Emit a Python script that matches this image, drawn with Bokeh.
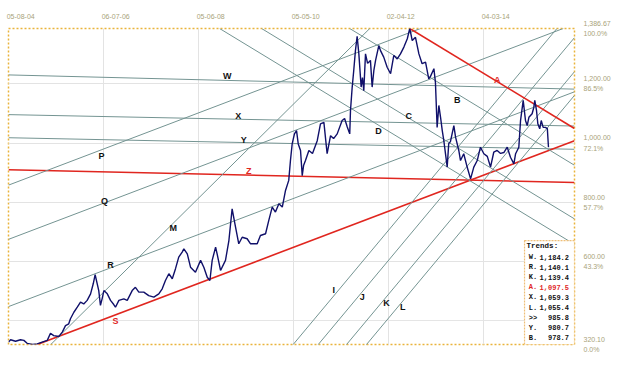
from bokeh.plotting import figure
from bokeh.models import Range1d, LinearAxis, FixedTicker, Grid, ColumnDataSource
from bokeh.core.properties import value
from bokeh.embed import file_html
from bokeh.resources import INLINE

# ---------------- data (x = trading bar index, 0 = 05-08-04; y = price) -------------
price_bar = [0, 11, 37, 63, 81, 98, 125, 151, 177, 204,
             221, 238, 265, 283, 300, 317, 326, 344, 362, 379,
             396, 414, 432, 446, 456, 467, 475, 484, 493, 502,
             520, 537, 554, 563, 581, 607, 625, 651, 668, 686,
             712, 738, 765, 791, 809, 826, 844, 862, 879, 896,
             914, 923, 941, 958, 984, 1011, 1028, 1046, 1060, 1072,
             1090, 1098, 1116, 1142, 1160, 1177, 1195, 1212, 1230, 1256,
             1274, 1309, 1326, 1353, 1370, 1388, 1405, 1423, 1441, 1458,
             1475, 1484, 1493, 1505, 1516, 1525, 1537, 1546, 1553, 1563,
             1581, 1600, 1625, 1642, 1660, 1677, 1695, 1711, 1730, 1756,
             1769, 1783, 1796, 1800, 1809, 1817, 1826, 1835, 1844, 1850,
             1856, 1863, 1870, 1879, 1890, 1905, 1914, 1923, 1932, 1949,
             1958, 1975, 1993, 2011, 2028, 2046, 2063, 2081, 2099, 2112,
             2125, 2142, 2160, 2177, 2195, 2212, 2221, 2239, 2247, 2256,
             2265, 2274, 2283, 2291, 2309, 2317, 2326, 2344, 2353, 2370,
             2379, 2396, 2414, 2432, 2449, 2467, 2484, 2502, 2520, 2537,
             2554, 2572, 2590, 2607, 2625, 2642, 2660, 2669, 2686, 2695,
             2709, 2721, 2730, 2739, 2756, 2765, 2770, 2779, 2786, 2796,
             2804, 2814, 2826, 2836, 2842]
price_val = [328, 336, 331, 336, 334, 324, 320.1, 322, 328, 334,
             358, 350, 347, 362, 384, 390, 407, 429, 446, 463,
             457, 469, 491, 525, 556, 525, 502, 452, 475, 502,
             491, 469, 455, 446, 469, 474, 469, 502, 513, 497,
             497, 485, 480, 491, 508, 536, 559, 542, 576, 615,
             632, 643, 626, 581, 564, 604, 581, 547, 536, 604,
             649, 626, 570, 604, 671, 778, 716, 660, 682, 677,
             660, 660, 688, 694, 739, 784, 767, 795, 784, 840,
             874, 941, 997, 1031, 1042, 997, 975, 890, 924, 941,
             975, 965, 1008, 1065, 1070, 964, 1025, 1015, 1031, 1076,
             1083, 1054, 1031, 1110, 1189, 1244, 1312, 1360, 1301, 1245,
             1189, 1221, 1177, 1301, 1269, 1279, 1189, 1245, 1279, 1329,
             1312, 1290, 1256, 1234, 1296, 1284, 1301, 1324, 1352, 1386.67,
             1346, 1357, 1301, 1268, 1273, 1217, 1225, 1251, 1205, 1053,
             1127, 1087, 1042, 1009, 919, 998, 1005, 1059, 1020, 975,
             941, 964, 919, 879, 919, 941, 986, 964, 955, 919,
             969, 975, 965, 968, 986, 952, 930, 964, 986, 1076,
             1144, 1076, 1059, 1087, 1099, 1121, 1144, 1110, 1065, 1048,
             1076, 1053, 1053, 1049, 985.8]
assert len(price_bar) == len(price_val)

date_ticks = [0, 500, 1000, 1500, 2000, 2500]
date_labels = ["05-08-04", "06-07-06", "05-06-08", "05-05-10", "02-04-12", "04-03-14"]

price_ticks = [320.10, 600, 800, 1000, 1200, 1386.67]
price_labels = ["320.10", "600.00", "800.00", "1,000.00", "1,200.00", "1,386.67"]
pct_labels = ["0.0%", "43.3%", "57.7%", "72.1%", "86.5%", "100.0%"]
grid_prices = [600, 800, 1000, 1200]

# trend lines: two anchor points each (bar, price)
trend_names = ["W", "X", "Y", "Z", "P", "Q", "R", "S", "M", "I", "J", "K", "L", "A", "B", "C", "D"]
trend_x0 = [0, 0, 0, 0, 0, 0, 0, 151, 221, 1493, 1625, 1774, 1879, 2112, 1796, 1332, 1111]
trend_p0 = [1230, 1096, 1018, 910, 858, 675, 448, 320, 319, 316, 316, 316, 316,
            1386.67, 1386.67, 1386.67, 1386.67]
trend_x1 = [2979, 2979, 2979, 2979, 2170, 2921, 2979, 2979, 1902, 2887, 2979, 2979, 2979,
            2979, 2979, 2979, 2979]
trend_p1 = [1182, 1057.5, 979, 867, 1387, 1387, 1173, 1008, 1387, 1387, 1356, 1241, 1161,
            1049, 925, 744, 658]
red_trends = ["Z", "S", "A"]

# letter labels placed along the lines
label_x = [1151, 1209, 1238, 1265, 489, 505, 537, 563, 867, 1712, 1862, 1990, 2075, 2572, 2362, 2107, 1947]
label_p = [1225, 1091, 1012, 907, 958, 803, 590, 398, 714, 505, 480, 460, 446, 1214, 1147, 1093, 1041]

# "Trends:" panel
trend_keys = ["W.", "R.", "K.", "A.", "X.", "L.", ">>", "Y.", "B."]
trend_vals = [1184.2, 1140.1, 1139.4, 1097.5, 1059.3, 1055.4, 985.8, 980.7, 978.7]

# ---------------- styling ----------------
GREY_LINE = "#749492"
RED = "#e0261f"
NAVY = "#10106a"
AXIS_TXT = "#a9a37a"
FONT = "Liberation Sans"

X_MAX = 2979
Y_MIN, Y_MAX = 320.10, 1386.67
LABEL_SHIFT = 64          # date labels start at their grid line (left-aligned look)

p = figure(frame_width=566, frame_height=316,
           x_range=Range1d(0, X_MAX), y_range=Range1d(Y_MIN, Y_MAX),
           output_backend="svg", toolbar_location=None,
           x_axis_location=None, y_axis_location=None,
           min_border_left=8, min_border_right=49, min_border_top=28, min_border_bottom=28)
p.background_fill_color = "white"
p.border_fill_color = "white"
p.outline_line_color = "#e9b43c"
p.outline_line_dash = "2 2"
p.outline_line_width = 1.5

# grids
p.add_layout(Grid(dimension=0, ticker=FixedTicker(ticks=date_ticks[1:]),
                  grid_line_color="#e3e3e3", grid_line_width=1))
p.add_layout(Grid(dimension=1, ticker=FixedTicker(ticks=grid_prices),
                  grid_line_color="#e3e3e3", grid_line_width=1))

# axes
top_ticks = [t + LABEL_SHIFT for t in date_ticks]
top_axis = LinearAxis(ticker=FixedTicker(ticks=top_ticks),
                      major_label_overrides={t: l for t, l in zip(top_ticks, date_labels)},
                      axis_line_color=None, major_tick_line_color=None, minor_tick_line_color=None,
                      major_tick_out=0, major_tick_in=0, minor_tick_out=0, minor_tick_in=0,
                      major_label_text_font=FONT, major_label_text_font_size="7px",
                      major_label_text_color=AXIS_TXT, major_label_standoff=10)
p.add_layout(top_axis, "above")

right_axis = LinearAxis(ticker=FixedTicker(ticks=price_ticks),
                        major_label_overrides={t: f"{a}\n{b}" for t, a, b in zip(price_ticks, price_labels, pct_labels)},
                        axis_line_color=None, major_tick_line_color=None, minor_tick_line_color=None,
                        major_tick_out=0, major_tick_in=0, minor_tick_out=0, minor_tick_in=0,
                        major_label_text_font=FONT, major_label_text_font_size="7px",
                        major_label_text_color=AXIS_TXT, major_label_standoff=9,
                        major_label_text_line_height=1.45)
p.add_layout(right_axis, "right")

# trend lines
colors = [RED if n in red_trends else GREY_LINE for n in trend_names]
widths = [1.6 if n in red_trends else 1.0 for n in trend_names]
lines_src = ColumnDataSource(dict(x0=trend_x0, y0=trend_p0, x1=trend_x1, y1=trend_p1,
                                  color=colors, width=widths))
p.segment("x0", "y0", "x1", "y1", source=lines_src, line_color="color", line_width="width")

# price series
p.line(price_bar, price_val, line_color=NAVY, line_width=1.4)

# line letters
lab_colors = [RED if n in red_trends else "#111111" for n in trend_names]
lab_src = ColumnDataSource(dict(x=label_x, y=label_p, t=trend_names, c=lab_colors))
p.text("x", "y", "t", source=lab_src, text_color="c", text_font=value(FONT),
       text_font_style="bold", text_font_size="9px", text_align="center", text_baseline="middle")

# Trends panel
panel_left, panel_top = 2716, 671
p.quad(left=[panel_left], right=[X_MAX], bottom=[Y_MIN], top=[panel_top],
       fill_color="white", line_color="#efbf78", line_width=1.2, line_dash="2 1")
p.text(x=[2727], y=[654], text=["Trends:"], text_font=value("Liberation Mono"),
       text_font_style="bold", text_font_size="7.5px", text_color="#111111",
       text_align="left", text_baseline="middle")
row_y = [615.4 - 34.1 * i for i in range(len(trend_keys))]
row_c = [RED if k.startswith("A") else "#111111" for k in trend_keys]
rows_src = ColumnDataSource(dict(y=row_y, k=trend_keys,
                                 v=[f"{v:,.1f}" for v in trend_vals], c=row_c,
                                 xk=[2738] * len(trend_keys), xv=[2950] * len(trend_keys)))
p.text("xk", "y", "k", source=rows_src, text_color="c", text_font=value("Liberation Mono"),
       text_font_style="bold", text_font_size="7px", text_align="left", text_baseline="middle")
p.text("xv", "y", "v", source=rows_src, text_color="c", text_font=value("Liberation Mono"),
       text_font_style="bold", text_font_size="7px", text_align="right", text_baseline="middle")

open("out.html", "w").write(file_html(p, INLINE))
